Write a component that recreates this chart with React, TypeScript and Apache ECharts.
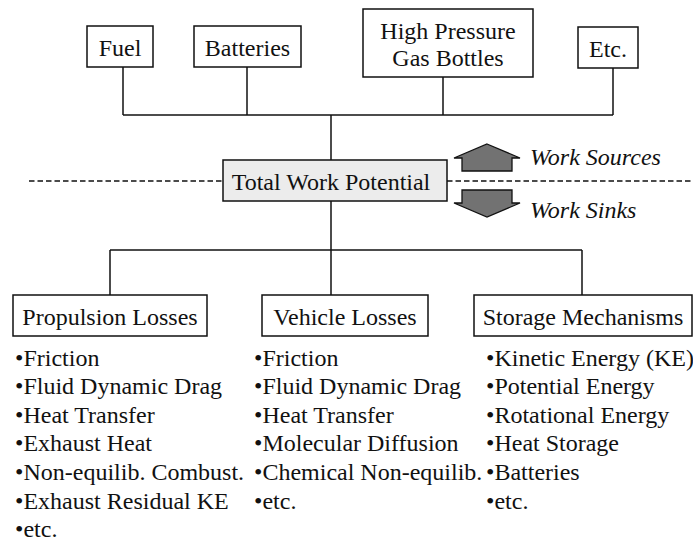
import React, { useEffect, useRef } from "react";
import * as echarts from "echarts";

// Work sources (top boxes)
const sourceLabels = ["Fuel", "Batteries", "High Pressure\nGas Bottles", "Etc."];
// Central node and direction labels
const centerLabel = "Total Work Potential";
const upLabel = "Work Sources";
const downLabel = "Work Sinks";
// Work sinks (bottom boxes)
const sinkLabels = ["Propulsion Losses", "Vehicle Losses", "Storage Mechanisms"];
const propulsionItems = [
  "Friction",
  "Fluid Dynamic Drag",
  "Heat Transfer",
  "Exhaust Heat",
  "Non-equilib. Combust.",
  "Exhaust Residual KE",
  "etc.",
];
const vehicleItems = [
  "Friction",
  "Fluid Dynamic Drag",
  "Heat Transfer",
  "Molecular Diffusion",
  "Chemical Non-equilib.",
  "etc.",
];
const storageItems = [
  "Kinetic Energy (KE)",
  "Potential Energy",
  "Rotational Energy",
  "Heat Storage",
  "Batteries",
  "etc.",
];

const FONT = "Liberation Serif";
const INK = "#111";

export default function App() {
  const ref = useRef<HTMLDivElement>(null);

  useEffect(() => {
    if (!ref.current) return;
    const chart = echarts.init(ref.current, null, { renderer: "svg" });

    const els: any[] = [];
    const line = (pts: number[][], extra: any = {}) =>
      els.push({
        type: "polyline",
        shape: { points: pts },
        style: { stroke: INK, lineWidth: 1.5, fill: null, ...extra },
        silent: true,
      });
    const box = (x: number, y: number, w: number, h: number, fill = "#fff") =>
      els.push({
        type: "rect",
        shape: { x, y, width: w, height: h },
        style: { fill, stroke: INK, lineWidth: 1.5 },
        silent: true,
      });
    const text = (
      t: string,
      x: number,
      y: number,
      size: number,
      align = "center",
      italic = false
    ) => {
      const style: any = {
        text: t,
        fontFamily: FONT,
        fontSize: size,
        fill: INK,
        align,
        verticalAlign: "middle",
      };
      if (italic) style.fontStyle = "italic";
      if (t.indexOf("\n") >= 0) style.lineHeight = 27;
      els.push({ type: "text", x, y, style, silent: true });
    };

    // ---- top source boxes
    const srcBoxes = [
      { x: 87, y: 26, w: 66, h: 41, lx: 123 },
      { x: 194, y: 26, w: 107, h: 41, lx: 247 },
      { x: 363, y: 9, w: 170, h: 68, lx: 443 },
      { x: 578, y: 27, w: 60, h: 41, lx: 613 },
    ];
    const busTop = 115;
    srcBoxes.forEach((b, i) => {
      box(b.x, b.y, b.w, b.h);
      text(sourceLabels[i], b.x + b.w / 2, b.y + b.h / 2 + 1, 24);
      line([[b.lx, b.y + b.h], [b.lx, busTop]]);
    });
    line([[srcBoxes[0].lx, busTop], [srcBoxes[3].lx, busTop]]);

    // ---- center
    const cx = 331;
    const cBox = { x: 223, y: 160, w: 224, h: 41 };
    line([[cx, busTop], [cx, cBox.y]]);
    // dashed divider
    const dy = 181;
    line([[29, dy], [cBox.x, dy]], { lineDash: [5.5, 3], lineWidth: 1.3 });
    line([[cBox.x + cBox.w, dy], [693, dy]], { lineDash: [5.5, 3], lineWidth: 1.3 });
    box(cBox.x, cBox.y, cBox.w, cBox.h, "#ececec");
    text(centerLabel, cx, cBox.y + cBox.h / 2 + 1, 24);

    // arrows
    els.push({
      type: "polygon",
      shape: {
        points: [
          [487, 144], [520, 158], [512, 158], [512, 171],
          [462, 171], [462, 158], [454, 158],
        ],
      },
      style: { fill: "#727272", stroke: INK, lineWidth: 1.3 },
      silent: true,
    });
    els.push({
      type: "polygon",
      shape: {
        points: [
          [462, 190], [512, 190], [512, 203], [520, 203],
          [487, 217], [454, 203], [462, 203],
        ],
      },
      style: { fill: "#727272", stroke: INK, lineWidth: 1.3 },
      silent: true,
    });
    text(upLabel, 530, 157, 24, "left", true);
    text(downLabel, 530, 210, 24, "left", true);

    // ---- bottom
    const busBot = 250;
    const sinkBoxes = [
      { x: 13, y: 295, w: 194, h: 41, lx: 110, bx: 15, items: propulsionItems },
      { x: 262, y: 295, w: 166, h: 41, lx: 331, bx: 254, items: vehicleItems },
      { x: 474, y: 295, w: 218, h: 41, lx: 582, bx: 486, items: storageItems },
    ];
    line([[cx, cBox.y + cBox.h], [cx, busBot]]);
    line([[sinkBoxes[0].lx, busBot], [sinkBoxes[2].lx, busBot]]);
    sinkBoxes.forEach((b, i) => {
      line([[b.lx, busBot], [b.lx, b.y]]);
      box(b.x, b.y, b.w, b.h);
      text(sinkLabels[i], b.x + b.w / 2, b.y + b.h / 2 + 1, 24);
      b.items.forEach((it, j) => {
        text("\u2022" + it, b.bx, 357.5 + j * 28.6, 24, "left");
      });
    });

    chart.setOption({
      animation: false,
      backgroundColor: "#fff",
      graphic: { elements: els },
    });
    return () => chart.dispose();
  }, []);

  return (
    <div
      ref={ref}
      style={{ position: "fixed", left: 0, top: 0, width: 693, height: 541, background: "#fff" }}
    />
  );
}
